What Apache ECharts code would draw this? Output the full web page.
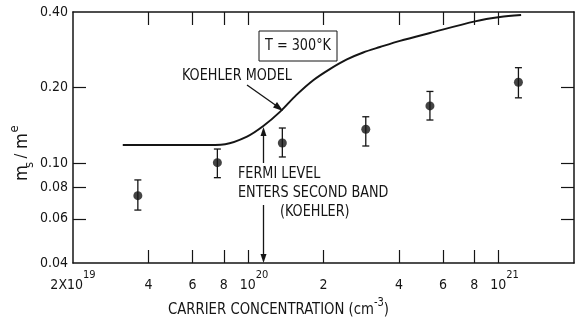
<!DOCTYPE html>
<html>
<head>
<meta charset="utf-8">
<script src="https://cdn.jsdelivr.net/npm/echarts@6/dist/echarts.min.js"></script>
<style>
  html, body { margin: 0; padding: 0; background: #fff; }
  #chart { width: 576px; height: 323px; }
</style>
</head>
<body>
<div id="chart"></div>
<script>
// Koehler model curve (carrier concentration, m_s/m_e)
var curveX = [3.16e19, 6.4e19, 8.1e19, 9.9e19, 1.15e20, 1.34e20, 1.56e20, 1.82e20, 2.12e20, 2.48e20, 2.88e20, 3.36e20, 4.04e20, 5.32e20, 8.05e20, 1.013e21, 1.23e21];
var curveY = [0.118, 0.118, 0.119, 0.1275, 0.1405, 0.160, 0.187, 0.214, 0.237, 0.259, 0.276, 0.290, 0.307, 0.330, 0.367, 0.382, 0.389];

// measured points with error bars
var ptX = [3.63e19, 7.54e19, 1.37e20, 2.95e20, 5.32e20, 1.2e21];
var ptY = [0.0742, 0.1004, 0.1203, 0.1364, 0.169, 0.210];
var ptHi = [0.0857, 0.1138, 0.138, 0.153, 0.193, 0.240];
var ptLo = [0.065, 0.0875, 0.1058, 0.117, 0.1485, 0.182];

// ticks
var xTicks = [4e19, 6e19, 8e19, 1e20, 2e20, 4e20, 6e20, 8e20, 1e21];
var xLabels = [2e19, 4e19, 6e19, 8e19, 1e20, 2e20, 4e20, 6e20, 8e20, 1e21, 2e21];
var yTicks = [0.06, 0.08, 0.1, 0.2];
var yLabels = [0.04, 0.06, 0.08, 0.1, 0.2, 0.4];

var FONT = "'Liberation Sans Narrow', 'DejaVu Sans Condensed', sans-serif";
var INK = '#151515';
var SX = 0.89; // squeeze annotation text a little

var chart = echarts.init(document.getElementById('chart'));

function xFmt(v) {
  var e = Math.floor(Math.log10(v) + 1e-9);
  var m = Math.round(v / Math.pow(10, e));
  if (v < 3e19) return '{b|2X10}{sup|19}';
  if (m == 1) return '{sp|}{b|10}{sup|' + e + '}';
  return '{b|' + m + '}';
}

function xAxisCfg(pos, labels) {
  return {
    type: 'log', logBase: 10, min: 2e19, max: 2e21, position: pos,
    axisLine: { show: true, onZero: false, lineStyle: { color: INK, width: 1.5 } },
    axisTick: { show: true, inside: true, length: 13, customValues: xTicks, lineStyle: { color: INK, width: 1.2 } },
    axisLabel: {
      show: labels, customValues: xLabels, margin: 7, formatter: xFmt,
      rich: {
        b: { fontFamily: FONT, fontSize: 14, color: INK, lineHeight: 30 },
        sup: { fontFamily: FONT, fontSize: 11, color: INK, lineHeight: 10, verticalAlign: 'top' },
        sp: { width: 12 }
      }
    },
    splitLine: { show: false }, minorTick: { show: false }
  };
}

function yAxisCfg(pos, labels) {
  return {
    type: 'log', logBase: 10, min: 0.04, max: 0.4, position: pos,
    axisLine: { show: true, onZero: false, lineStyle: { color: INK, width: 1.5 } },
    axisTick: { show: true, inside: true, length: 13, customValues: yTicks, lineStyle: { color: INK, width: 1.2 } },
    axisLabel: {
      show: labels, customValues: yLabels, margin: 5,
      fontFamily: FONT, fontSize: 14, color: INK,
      formatter: function (v) { return (Math.round(v * 100) / 100).toFixed(2); }
    },
    splitLine: { show: false }
  };
}

function note(txt, x, y, align) {
  return { type: 'text', x: x, y: y, scaleX: SX,
    style: { text: txt, fontFamily: FONT, fontSize: 16, fill: INK, align: align || 'left', verticalAlign: 'middle' } };
}

var option = {
  backgroundColor: '#fff',
  animation: false,
  grid: { left: 73, right: 2, top: 12, bottom: 60, containLabel: false },
  xAxis: [xAxisCfg('bottom', true), xAxisCfg('top', false)],
  yAxis: [yAxisCfg('left', true), yAxisCfg('right', false)],
  series: [
    {
      name: 'Koehler model', type: 'line', smooth: 0.3, symbol: 'none',
      lineStyle: { color: INK, width: 2 },
      data: curveX.map(function (x, i) { return [x, curveY[i]]; })
    },
    {
      name: 'error', type: 'custom',
      data: ptX.map(function (x, i) { return [x, ptLo[i], ptHi[i]]; }),
      encode: { x: 0, y: [1, 2] },
      renderItem: function (params, api) {
        var top = api.coord([api.value(0), api.value(2)]);
        var bot = api.coord([api.value(0), api.value(1)]);
        var w = 3.5;
        var st = { stroke: INK, lineWidth: 1.3 };
        return {
          type: 'group', children: [
            { type: 'line', shape: { x1: top[0], y1: top[1], x2: bot[0], y2: bot[1] }, style: st },
            { type: 'line', shape: { x1: top[0] - w, y1: top[1], x2: top[0] + w, y2: top[1] }, style: st },
            { type: 'line', shape: { x1: bot[0] - w, y1: bot[1], x2: bot[0] + w, y2: bot[1] }, style: st }
          ]
        };
      }
    },
    {
      name: 'measured', type: 'scatter', symbol: 'circle', symbolSize: 9,
      itemStyle: { color: INK },
      data: ptX.map(function (x, i) { return [x, ptY[i]]; }),
      z: 5
    }
  ],
  graphic: [
    // T = 300 K box
    { type: 'rect', shape: { x: 259, y: 31, width: 78, height: 30 }, style: { fill: '#fff', stroke: INK, lineWidth: 1 } },
    note('T = 300°K', 298, 46, 'center'),
    // Koehler model label and arrow
    note('KOEHLER MODEL', 182, 76),
    { type: 'line', shape: { x1: 247, y1: 85, x2: 281, y2: 109 }, style: { stroke: INK, lineWidth: 1.3 } },
    { type: 'polygon', shape: { points: [[283, 111], [273, 107.5], [277, 102]] }, style: { fill: INK } },
    // Fermi level text
    note('FERMI LEVEL', 238, 174),
    note('ENTERS SECOND BAND', 238, 193),
    note('(KOEHLER)', 280, 212),
    // vertical double arrow
    { type: 'line', shape: { x1: 263.5, y1: 130, x2: 263.5, y2: 163 }, style: { stroke: INK, lineWidth: 1.3 } },
    { type: 'polygon', shape: { points: [[263.5, 127], [260.5, 136], [266.5, 136]] }, style: { fill: INK } },
    { type: 'line', shape: { x1: 263.5, y1: 205, x2: 263.5, y2: 258 }, style: { stroke: INK, lineWidth: 1.3 } },
    { type: 'polygon', shape: { points: [[263.5, 263], [260.5, 254], [266.5, 254]] }, style: { fill: INK } },
    // x axis title
    { type: 'text', x: 168, y: 310, scaleX: 0.92, style: {
        text: '{a|CARRIER CONCENTRATION (cm}{sup|-3}{a|)}',
        rich: {
          a: { fontFamily: FONT, fontSize: 16, fill: INK, lineHeight: 26 },
          sup: { fontFamily: FONT, fontSize: 12, fill: INK, lineHeight: 12, verticalAlign: 'top' }
        },
        align: 'left', verticalAlign: 'middle' } },
    // y axis title m_s / m_e (rotated)
    { type: 'text', x: 22, y: 173, rotation: Math.PI / 2, style: { text: 'm', fontFamily: FONT, fontSize: 18, fill: INK, align: 'center', verticalAlign: 'middle' } },
    { type: 'text', x: 30, y: 165, rotation: Math.PI / 2, style: { text: 's', fontFamily: FONT, fontSize: 13, fill: INK, align: 'center', verticalAlign: 'middle' } },
    { type: 'text', x: 22, y: 156, rotation: Math.PI / 2, style: { text: '/', fontFamily: FONT, fontSize: 16, fill: INK, align: 'center', verticalAlign: 'middle' } },
    { type: 'text', x: 22, y: 141, rotation: Math.PI / 2, style: { text: 'm', fontFamily: FONT, fontSize: 18, fill: INK, align: 'center', verticalAlign: 'middle' } },
    { type: 'text', x: 15, y: 129, rotation: Math.PI / 2, style: { text: 'e', fontFamily: FONT, fontSize: 13, fill: INK, align: 'center', verticalAlign: 'middle' } }
  ]
};

chart.setOption(option);
</script>
</body>
</html>
